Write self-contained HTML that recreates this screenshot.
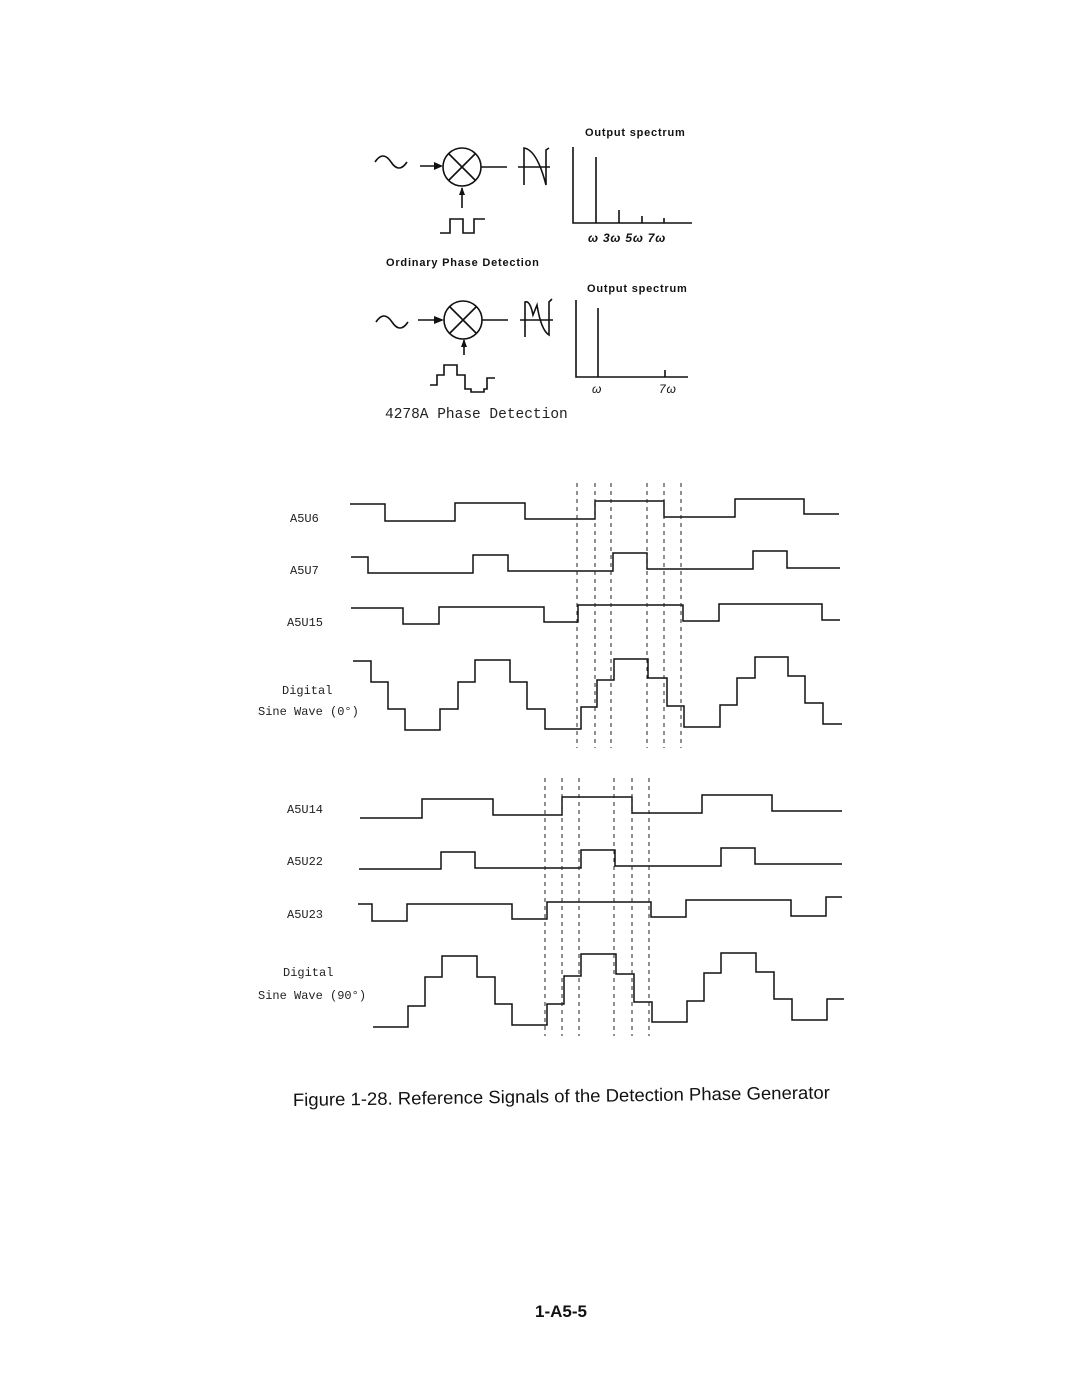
<!DOCTYPE html>
<html><head><meta charset="utf-8"><style>
html,body{margin:0;padding:0;background:#fff}
svg{display:block}
.l{font-family:"Liberation Mono",monospace;font-size:12px;fill:#222}
.s{font-family:"Liberation Sans",sans-serif;font-weight:bold;font-size:11px;fill:#111;letter-spacing:0.8px}
</style></head><body>
<svg width="1080" height="1397" viewBox="0 0 1080 1397" xmlns="http://www.w3.org/2000/svg">
<g fill="none" stroke="#111" stroke-width="1.6">
<path d="M375 162 q8 -12 16 0 t16 0"/>
<path d="M420 166 H441"/>
<circle cx="462" cy="167" r="19"/>
<path d="M449 154 L475 180 M475 154 L449 180"/>
<path d="M481 167 H507"/>
<path d="M462 208 V188"/>
<path d="M440 233 H450 V219 H463 V233 H474 V219 H485"/>
<path d="M518 167 H550 M524 185 V148 Q537 150 546 185 V150 l3 -2"/>
<path d="M573 147 V223 H692"/>
<path d="M596 157 V223 M619 210 V223 M642 216 V223 M664 218 V223"/>
<path d="M376 322 q8 -12 16 0 t16 0"/>
<path d="M418 320 H442"/>
<circle cx="463" cy="320" r="19"/>
<path d="M450 307 L476 333 M476 307 L450 333"/>
<path d="M482 320 H508"/>
<path d="M464 355 V340"/>
<path d="M430 385 H437 V375 H444 V365 H457 V375 H465 V389 H471 V392 H484 V389 H487 V378 H495"/>
<path d="M520 320 H553 M525 337 V302 Q530 300 533 315 L537 305 Q541 330 549 335 V302 l3 -3"/>
<path d="M576 300 V377 H688"/>
<path d="M598 308 V377 M665 370 V377"/>
</g>
<g fill="#111">
<path d="M434 162 L443 166 L434 170 Z"/>
<path d="M459 195 L462 187 L465 195 Z"/>
<path d="M434 316 L444 320 L434 324 Z"/>
<path d="M461 347 L464 339 L467 347 Z"/>
</g>
<text class="s" x="585" y="136">Output  spectrum</text>
<text class="s" x="588" y="242" font-style="italic" font-weight="normal" style="font-size:12px">ω 3ω  5ω 7ω</text>
<text class="s" x="386" y="266">Ordinary  Phase  Detection</text>
<text class="s" x="587" y="292">Output   spectrum</text>
<text class="s" x="592" y="393" style="font-size:12px;font-weight:normal;font-style:italic">ω</text>
<text class="s" x="659" y="393" style="font-size:12px;font-weight:normal;font-style:italic">7ω</text>
<text x="385" y="418" style="font-family:'Liberation Mono',monospace;font-size:14.5px;fill:#222">4278A Phase Detection</text>

<text class="l" x="290" y="522">A5U6</text>
<text class="l" x="290" y="574">A5U7</text>
<text class="l" x="287" y="626">A5U15</text>
<text class="l" x="282" y="694">Digital</text>
<text class="l" x="258" y="715">Sine Wave (0°)</text>
<text class="l" x="287" y="813">A5U14</text>
<text class="l" x="287" y="865">A5U22</text>
<text class="l" x="287" y="918">A5U23</text>
<text class="l" x="283" y="976">Digital</text>
<text class="l" x="258" y="999">Sine Wave (90°)</text>

<g fill="none" stroke="#111" stroke-width="1.5">
<path d="M350 504 H385 V521 H455 V503 H525 V519 H595 V501 H664 V517 H735 V499 H804 V514 H839"/>
<path d="M351 557 H368 V573 H473 V555 H508 V571 H613 V553 H647 V569 H753 V551 H787 V568 H840"/>
<path d="M351 608 H403 V624 H439 V607 H544 V622 H578 V605 H683 V621 H719 V604 H822 V620 H840"/>
<path d="M353 661 H371 V682 H388 V709 H405 V730 H440 V709 H458 V682 H475 V660 H510 V682 H527 V709 H545 V729 H581 V707 H597 V680 H614 V659 H648 V678 H667 V706 H684 V727 H720 V705 H737 V678 H755 V657 H788 V676 H805 V703 H823 V724 H842"/>
<path d="M360 818 H422 V799 H493 V815 H562 V797 H632 V813 H702 V795 H772 V811 H842"/>
<path d="M359 869 H441 V852 H475 V868 H581 V850 H615 V866 H721 V848 H755 V864 H842"/>
<path d="M358 904 H372 V921 H407 V904 H512 V919 H547 V902 H651 V917 H686 V900 H791 V916 H826 V897 H842"/>
<path d="M373 1027 H408 V1006 H425 V977 H442 V956 H477 V977 H495 V1004 H512 V1025 H547 V1004 H564 V976 H581 V954 H616 V974 H634 V1002 H652 V1022 H687 V1001 H704 V973 H721 V953 H756 V972 H774 V999 H792 V1020 H827 V999 H844"/>
</g>
<g fill="none" stroke="#222" stroke-width="1" stroke-dasharray="4,4">
<path d="M577 483 V748 M595 483 V748 M611 483 V748 M647 483 V748 M664 483 V748 M681 483 V748"/>
<path d="M545 778 V1036 M562 778 V1036 M579 778 V1036 M614 778 V1036 M632 778 V1036 M649 778 V1036"/>
</g>
<text x="293" y="1106" textLength="537" lengthAdjust="spacingAndGlyphs" transform="rotate(-0.8 293 1106)" style="font-family:'Liberation Sans',sans-serif;font-size:18px;fill:#111">Figure 1-28. Reference Signals of the Detection Phase Generator</text>
<text x="535" y="1317" style="font-family:'Liberation Sans',sans-serif;font-weight:bold;font-size:17px;fill:#111">1-A5-5</text>
</svg>
</body></html>
